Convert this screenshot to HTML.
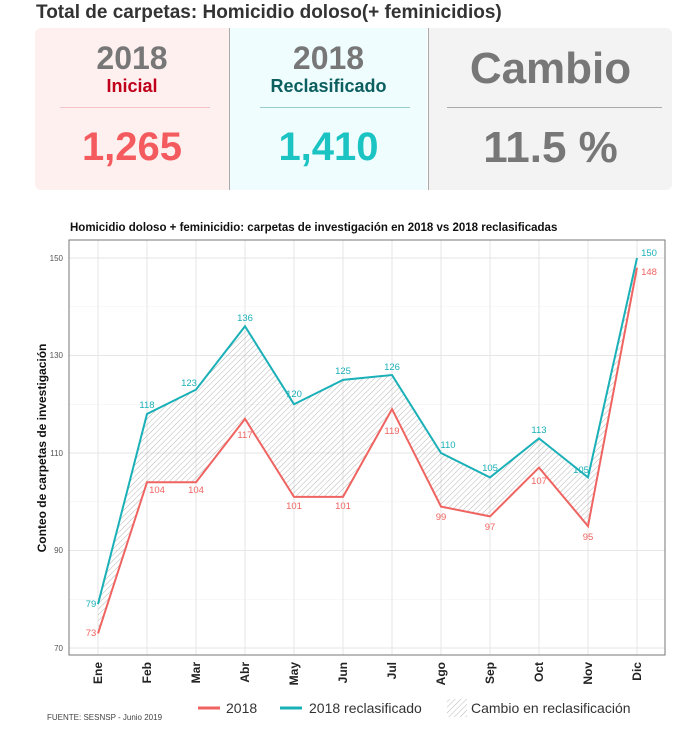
<!DOCTYPE html><html><head><meta charset="utf-8"><style>
body{margin:0;width:700px;height:730px;background:#fff;font-family:"Liberation Sans",sans-serif;position:relative;overflow:hidden}
.t{position:absolute;left:36px;top:2px;font-size:19px;font-weight:bold;color:#333}
.box{position:absolute;top:28px;height:162px;text-align:center}
.hr{position:absolute;top:79px;height:1px}
</style></head><body>
<div class="t">Total de carpetas: Homicidio doloso(+ feminicidios)</div>
<div class="box" style="left:35px;width:194px;background:#fff0f0;border-radius:6px 0 0 6px"></div>
<div class="box" style="left:230px;width:197px;background:#effdfe"></div>
<div class="box" style="left:429px;width:243px;background:#f3f3f3;border-radius:0 6px 6px 0"></div>
<div style="position:absolute;left:229px;top:28px;width:1px;height:162px;background:#aaa"></div>
<div style="position:absolute;left:428px;top:28px;width:1px;height:162px;background:#aaa"></div>
<div style="position:absolute;left:35px;width:194px;top:40px;text-align:center;font-size:32px;font-weight:bold;color:#777">2018</div>
<div style="position:absolute;left:35px;width:194px;top:76px;text-align:center;font-size:18px;font-weight:bold;color:#c0001a">Inicial</div>
<div class="hr" style="left:60px;width:150px;background:#f4c4c8;top:107px"></div>
<div style="position:absolute;left:35px;width:194px;top:125px;text-align:center;font-size:40px;font-weight:bold;color:#f45b5f">1,265</div>
<div style="position:absolute;left:230px;width:197px;top:40px;text-align:center;font-size:32px;font-weight:bold;color:#777">2018</div>
<div style="position:absolute;left:230px;width:197px;top:76px;text-align:center;font-size:18px;font-weight:bold;color:#0d5f5f">Reclasificado</div>
<div class="hr" style="left:260px;width:150px;background:#9cc;top:107px"></div>
<div style="position:absolute;left:230px;width:197px;top:125px;text-align:center;font-size:40px;font-weight:bold;color:#1bc3c3">1,410</div>
<div style="position:absolute;left:429px;width:243px;top:44px;text-align:center;font-size:44px;font-weight:bold;color:#777">Cambio</div>
<div class="hr" style="left:447px;width:215px;background:#aaa;top:107px"></div>
<div style="position:absolute;left:429px;width:243px;top:123px;text-align:center;font-size:44px;font-weight:bold;color:#777">11.5 %</div>
<svg width="700" height="730" style="position:absolute;left:0;top:0" font-family="Liberation Sans, sans-serif">
<defs><pattern id="h" width="4" height="4" patternUnits="userSpaceOnUse" patternTransform="rotate(45)"><line x1="0" y1="0" x2="0" y2="4" stroke="#999" stroke-width="0.7"/></pattern></defs>
<text x="70" y="231" font-size="11.5" font-weight="bold" fill="#111">Homicidio doloso + feminicidio: carpetas de investigación en 2018 vs 2018 reclasificadas</text>
<g stroke="#f2f2f2" stroke-width="0.6">
<line x1="69" x2="665" y1="599.3" y2="599.3"/><line x1="69" x2="665" y1="501.8" y2="501.8"/><line x1="69" x2="665" y1="404.3" y2="404.3"/><line x1="69" x2="665" y1="306.8" y2="306.8"/></g>
<g stroke="#e6e6e6" stroke-width="1">
<line x1="69" x2="665" y1="648" y2="648"/><line x1="69" x2="665" y1="550.5" y2="550.5"/><line x1="69" x2="665" y1="453" y2="453"/><line x1="69" x2="665" y1="355.5" y2="355.5"/><line x1="69" x2="665" y1="258" y2="258"/>
<line x1="98" x2="98" y1="240" y2="655"/><line x1="147" x2="147" y1="240" y2="655"/><line x1="196" x2="196" y1="240" y2="655"/><line x1="245" x2="245" y1="240" y2="655"/><line x1="294" x2="294" y1="240" y2="655"/><line x1="343" x2="343" y1="240" y2="655"/><line x1="392" x2="392" y1="240" y2="655"/><line x1="441" x2="441" y1="240" y2="655"/><line x1="490" x2="490" y1="240" y2="655"/><line x1="539" x2="539" y1="240" y2="655"/><line x1="588" x2="588" y1="240" y2="655"/><line x1="637" x2="637" y1="240" y2="655"/></g>
<rect x="69" y="240" width="596" height="415" fill="none" stroke="#777" stroke-width="1"/>
<polygon fill="url(#h)" points="98,604.1 147,414 196,389.6 245,326.25 294,404.25 343,379.9 392,375 441,453 490,477.4 539,438.4 588,477.4 637,258 637,267.75 588,526.1 539,467.6 490,516.4 441,506.6 392,409.1 343,496.9 294,496.9 245,418.9 196,482.25 147,482.25 98,633.4"/>
<polyline fill="none" stroke="#ef6461" stroke-width="2" points="98,633.4 147,482.25 196,482.25 245,418.9 294,496.9 343,496.9 392,409.1 441,506.6 490,516.4 539,467.6 588,526.1 637,267.75"/>
<polyline fill="none" stroke="#1ab0b7" stroke-width="2" points="98,604.1 147,414 196,389.6 245,326.25 294,404.25 343,379.9 392,375 441,453 490,477.4 539,438.4 588,477.4 637,258"/>
<g font-size="9.5" fill="#ef6461" text-anchor="middle">
<text x="91" y="636">73</text><text x="157" y="493">104</text><text x="196" y="493">104</text><text x="245" y="438">117</text><text x="294" y="509">101</text><text x="343" y="509">101</text><text x="392" y="434">119</text><text x="441" y="520">99</text><text x="490" y="530">97</text><text x="539" y="484">107</text><text x="588" y="540">95</text><text x="649" y="275">148</text></g>
<g font-size="9.5" fill="#1ab0b7" text-anchor="middle">
<text x="91" y="607">79</text><text x="147" y="408">118</text><text x="189" y="386">123</text><text x="245" y="321">136</text><text x="294" y="397">120</text><text x="343" y="374">125</text><text x="392" y="370">126</text><text x="448" y="448">110</text><text x="490" y="471">105</text><text x="539" y="433">113</text><text x="581" y="473">105</text><text x="649" y="256">150</text></g>
<g font-size="8" fill="#555" text-anchor="end">
<text x="63" y="651">70</text><text x="63" y="553">90</text><text x="63" y="456">110</text><text x="63" y="358">130</text><text x="63" y="261">150</text></g>
<text transform="translate(46,448) rotate(-90)" font-size="12" font-weight="bold" fill="#111" text-anchor="middle">Conteo de carpetas de investigación</text>
<g font-size="12" font-weight="bold" fill="#222" text-anchor="end">
<text transform="translate(102,662) rotate(-90)">Ene</text><text transform="translate(151,662) rotate(-90)">Feb</text><text transform="translate(200,662) rotate(-90)">Mar</text><text transform="translate(249,662) rotate(-90)">Abr</text><text transform="translate(298,662) rotate(-90)">May</text><text transform="translate(347,662) rotate(-90)">Jun</text><text transform="translate(396,662) rotate(-90)">Jul</text><text transform="translate(445,662) rotate(-90)">Ago</text><text transform="translate(494,662) rotate(-90)">Sep</text><text transform="translate(543,662) rotate(-90)">Oct</text><text transform="translate(592,662) rotate(-90)">Nov</text><text transform="translate(641,662) rotate(-90)">Dic</text></g>
<line x1="198" x2="220" y1="708" y2="708" stroke="#ef6461" stroke-width="3"/>
<text x="226" y="713" font-size="14" fill="#333">2018</text>
<line x1="280" x2="302" y1="708" y2="708" stroke="#1ab0b7" stroke-width="3"/>
<text x="309" y="713" font-size="14" fill="#333">2018 reclasificado</text>
<rect x="447" y="699" width="20" height="18" fill="url(#h)"/>
<text x="471" y="713" font-size="14" fill="#333">Cambio en reclasificación</text>
<text x="47" y="720" font-size="8" fill="#444">FUENTE: SESNSP - Junio 2019</text>
</svg>
</body></html>
